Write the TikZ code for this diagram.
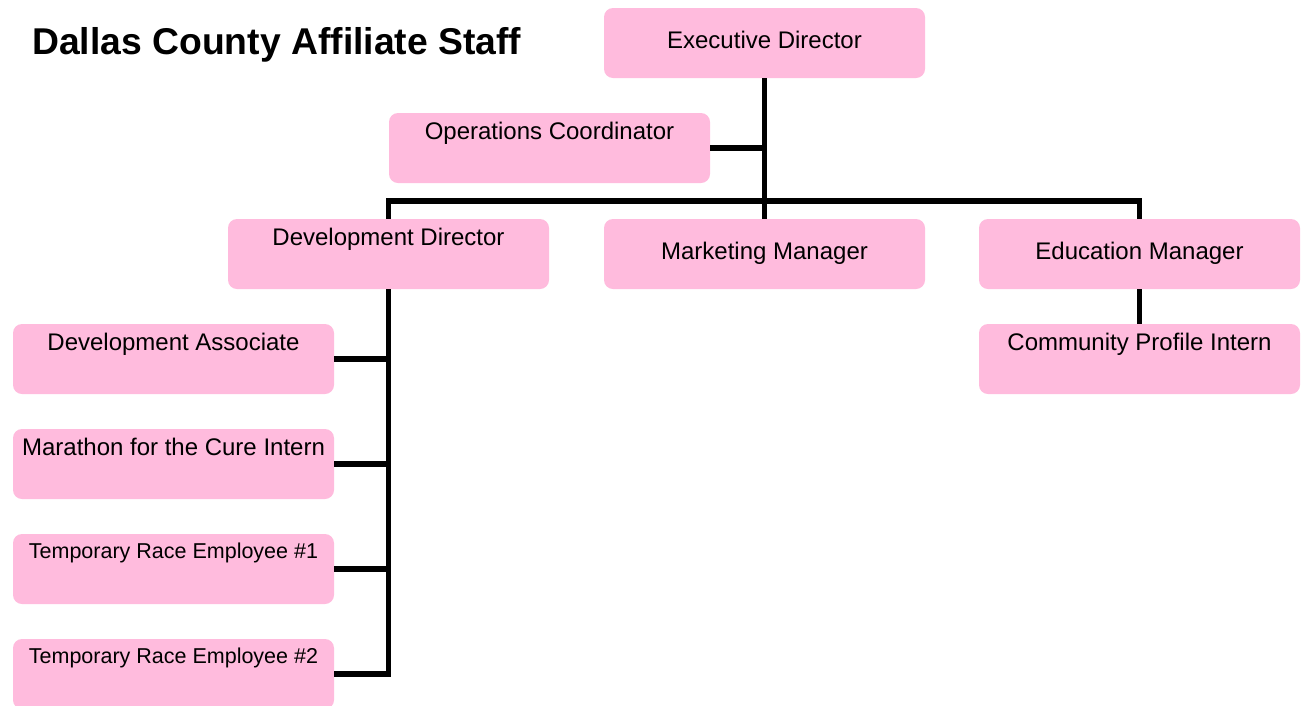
\documentclass[tikz,border=0pt]{standalone}
\usepackage{fontspec}
\setmainfont{Liberation Sans}
\definecolor{staffpink}{HTML}{FFBBDD}
\tikzset{
	post/.style={fill=staffpink, rounded corners=9pt, inner sep=0pt, minimum width=321pt, minimum height=70pt, font=\fontsize{24}{28}\selectfont},
	mid/.style={text height=40pt, text depth=30pt},
	high/.style={text height=26pt, text depth=44pt},
	small/.style={font=\fontsize{21.5}{25}\selectfont, text height=24pt, text depth=46pt},
	link/.style={line width=5.5pt, black}
}

\begin{document}
\begin{tikzpicture}[x=1pt, y=1pt]
			%%%%% START %%%%%
			
			\useasboundingbox (0, 0) rectangle (1301, -705);
			
			\node[anchor=base west, inner sep=0pt, font=\fontsize{37.3}{42}\selectfont\bfseries] (title) at (32, -54) {Dallas County Affiliate Staff};
			
			\node[post, mid] (exec) at (764.5, -43) {Executive Director};
			\node[post, high] (ops) at (549.5, -148) {Operations Coordinator};
			
			\node[post, high] (devdir) at (388.5, -254) {Development Director};
			\node[post, mid] (mkt) at (764.5, -254) {Marketing Manager};
			\node[post, mid] (edu) at (1139.5, -254) {Education Manager};
			
			\node[post, high] (comm) at (1139.5, -359) {Community Profile Intern};
			
			\node[post, high] (assoc) at (173.5, -359) {Development Associate};
			\node[post, high] (marathon) at (173.5, -464) {Marathon for the Cure Intern};
			\node[post, small] (temp1) at (173.5, -569) {Temporary Race Employee \#1};
			\node[post, small] (temp2) at (173.5, -674) {Temporary Race Employee \#2};
			
			% top of the tree
			\draw[link] (exec.south) -- (mkt.north);
			\draw[link] (ops.east) -- (ops.east -| exec.south);
			\draw[link] (devdir.north) -- ++(0, 18) -| (edu.north);
			
			% development branch
			\draw[link] (devdir.south) |- (temp2.east);
			\draw[link] (assoc.east) -- (assoc.east -| devdir.south);
			\draw[link] (marathon.east) -- (marathon.east -| devdir.south);
			\draw[link] (temp1.east) -- (temp1.east -| devdir.south);
			
			% education branch
			\draw[link] (edu.south) -- (comm.north);
			
			%%%%% END %%%%%
		\end{tikzpicture}
\end{document}
